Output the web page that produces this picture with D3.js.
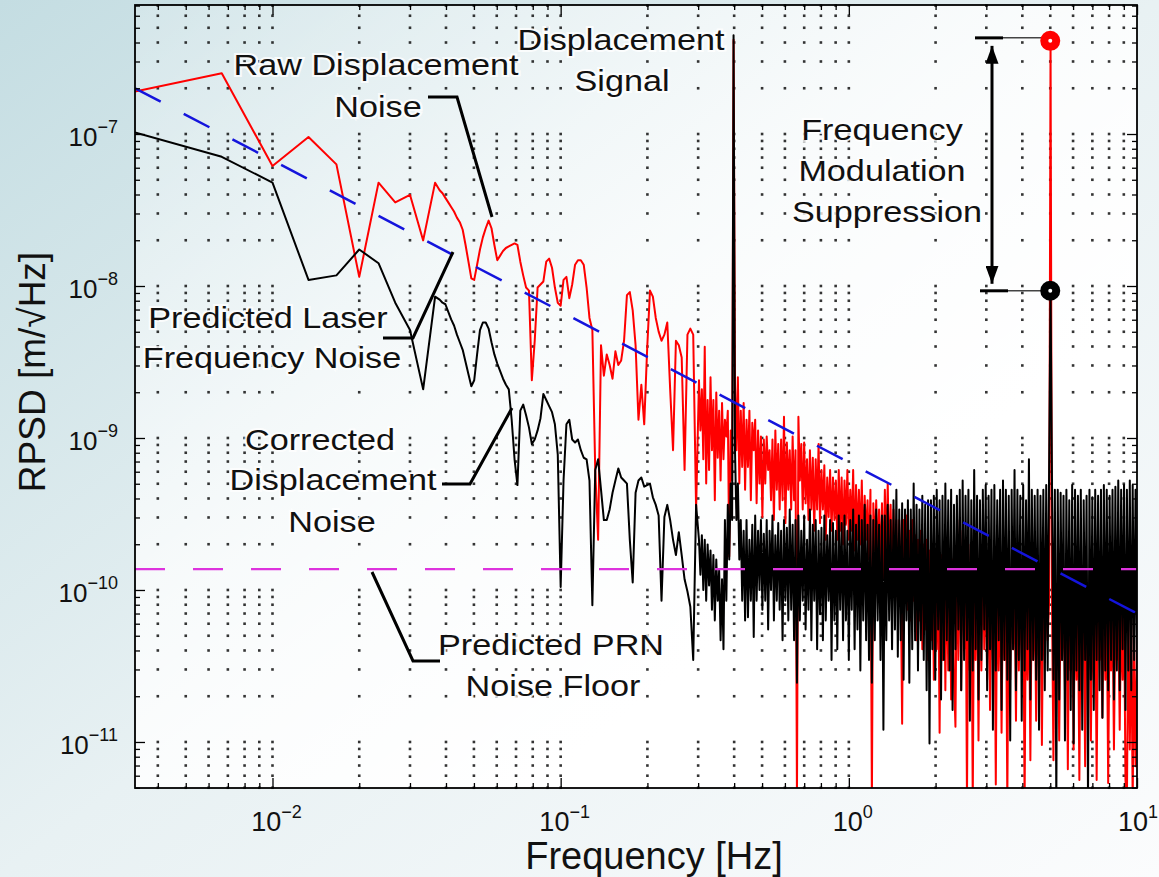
<!DOCTYPE html>
<html>
<head>
<meta charset="utf-8">
<script src="https://cdnjs.cloudflare.com/ajax/libs/d3/7.8.5/d3.min.js"></script>
<style>
html, body { margin: 0; padding: 0; }
body { width: 1159px; height: 877px; overflow: hidden; font-family: "Liberation Sans", Arial, Helvetica, sans-serif; }
</style>
</head>
<body>
<svg id="chart" width="1159" height="877"></svg>
<script>
var width = 1159, height = 877;

// axis limits
var freqRange = [1/300, 10];          // Hz
var rpsdRange = [4.98e-12, 7.06e-7];  // m/sqrt(Hz)
var majorFreq = [0.01, 0.1, 1, 10];
var majorRpsd = [1e-11, 1e-10, 1e-9, 1e-8, 1e-7];

// lowest FFT bins (n/300 Hz), values as log10(RPSD)
var lowFreq = [0.003333, 0.006667, 0.01, 0.013333, 0.016667, 0.02, 0.023333, 0.026667, 0.03, 0.033333, 0.036667];
var rawLow  = [-6.72, -6.60, -7.21, -7.02, -7.20, -7.94, -7.32, -7.45, -7.40, -7.70, -7.32];
var corrLow = [-6.99, -7.15, -7.32, -7.96, -7.93, -7.76, -7.85, -8.11, -8.29, -8.68, -8.07];

// 10^-1.42 .. 10^-0.53 Hz, read every 0.01 decade (log10 RPSD)
var midStart = -1.42, midStep = 0.01;
var rawMid = [
  -7.37,-7.39,-7.42,-7.45,-7.48,-7.51,-7.55,-7.58,-7.63,-7.73,
  -7.84,-7.95,-7.96,-7.86,-7.76,-7.68,-7.62,-7.57,-7.62,-7.73,
  -7.83,-7.80,-7.77,-7.75,-7.74,-7.73,-7.72,-7.73,-7.84,-7.93,
  -8.01,-8.03,-8.62,-8.36,-8.01,-7.99,-7.97,-7.84,-7.82,-7.88,
  -8.01,-8.11,-8.13,-7.96,-7.94,-8.08,-7.99,-7.86,-7.83,-7.83,
  -7.86,-8.01,-8.21,-8.29,-9.21,-9.67,-8.39,-8.59,-8.45,-8.52,
  -8.61,-8.43,-8.52,-8.49,-8.36,-8.06,-8.04,-8.16,-8.39,-8.88,
  -8.65,-8.91,-8.42,-8.03,-8.07,-8.21,-8.30,-8.36,-8.32,-8.24,
  -8.68,-9.08,-8.36,-8.39,-8.47,-9.21,-8.32,-8.28,-8.32,-9.47
];
var corrMid = [
  -8.09,-8.11,-8.12,-8.17,-8.22,-8.26,-8.32,-8.37,-8.42,-8.50,
  -8.58,-8.66,-8.62,-8.45,-8.29,-8.24,-8.24,-8.28,-8.37,-8.45,
  -8.51,-8.56,-8.61,-8.65,-8.68,-8.88,-9.14,-9.31,-8.82,-8.78,
  -8.85,-8.93,-9.04,-9.01,-8.95,-8.87,-8.71,-8.75,-8.79,-8.83,
  -8.91,-9.11,-9.98,-9.28,-8.91,-8.88,-9.01,-9.03,-9.01,-9.08,
  -9.13,-9.14,-9.28,-10.10,-9.21,-9.14,-9.34,-9.54,-9.54,-9.47,
  -9.36,-9.28,-9.20,-9.26,-9.28,-9.30,-9.67,-9.95,-9.36,-9.28,
  -9.26,-9.32,-9.31,-9.30,-9.39,-9.44,-9.51,-10.07,-9.52,-9.44,
  -9.54,-9.67,-9.77,-9.62,-9.77,-9.93,-10.01,-10.11,-10.46,-9.44
];

// 10^-0.52 .. 10 Hz, where the trace gets dense: read every 0.005 decade (log10 RPSD)
var denseStart = -0.52, denseStep = 0.005;
var rawDense = [
  -8.62,-8.95,-8.68,-9.14,-8.40,-9.30,-8.75,-9.21,-8.60,-9.08,
  -8.75,-9.41,-8.70,-9.13,-8.82,-9.28,-8.77,-9.14,-8.88,-8.99,
  -8.82,-9.78,-8.95,-9.28,-6.38,-8.65,-9.08,-8.60,-9.30,-8.82,
  -9.19,-8.77,-9.34,-8.88,-9.19,-8.82,-9.41,-8.90,-9.08,-8.88,
  -9.43,-8.95,-9.30,-8.99,-9.52,-9.01,-9.30,-8.99,-9.21,-9.08,
  -9.41,-9.01,-9.54,-8.95,-9.34,-9.04,-9.47,-9.01,-9.41,-8.86,
  -9.56,-9.03,-9.34,-9.08,-9.47,-8.99,-9.41,-9.08,-11.4,-8.86,
  -9.28,-9.04,-9.47,-9.03,-9.43,-9.14,-9.54,-9.08,-9.47,-9.13,
  -9.61,-9.14,-9.47,-9.04,-9.56,-9.21,-9.47,-9.18,-9.67,-9.26,
  -9.52,-9.21,-9.61,-9.26,-9.54,-9.28,-9.67,-9.21,-9.61,-9.26,
  -9.70,-9.28,-9.57,-9.21,-9.67,-9.34,-9.61,-9.21,-9.74,-9.31,
  -9.67,-9.34,-9.70,-9.28,-9.80,-9.38,-9.67,-9.41,-9.80,-9.34,
  -11.4,-9.43,-9.74,-9.41,-9.80,-9.47,-9.87,-9.43,-9.93,-9.34,
  -9.80,-9.30,-9.87,-9.44,-10.00,-9.47,-9.93,-9.54,-10.07,-9.54,
  -9.93,-10.88,-9.54,-10.07,-9.51,-10.13,-9.61,-10.20,-9.54,-10.07,
  -9.64,-10.33,-9.67,-10.20,-9.61,-10.39,-9.70,-10.26,-9.67,-10.46,
  -9.74,-10.33,-9.70,-10.59,-9.74,-10.39,-9.80,-10.94,-9.77,-10.46,
  -9.70,-10.66,-9.80,-10.53,-9.74,-10.72,-9.80,-10.59,-10.90,-9.70,
  -10.46,-9.54,-10.66,-9.61,-10.39,-9.67,-11.4,-9.70,-10.53,-9.74,
  -11.4,-9.80,-10.46,-9.74,-10.99,-9.80,-10.53,-9.70,-10.39,-9.80,
  -10.59,-9.74,-10.79,-9.87,-10.46,-9.80,-11.28,-9.80,-10.53,-9.87,
  -10.94,-9.93,-10.46,-9.87,-11.4,-9.84,-10.59,-9.93,-10.39,-9.90,
  -10.86,-9.87,-10.53,-9.93,-10.46,-9.90,-11.4,-9.87,-10.59,-9.93,
  -11.12,-9.90,-10.46,-9.93,-10.86,-9.87,-10.53,-10.00,-11.02,-9.93,
  -10.46,-10.00,-10.33,-10.07,-6.39,-10.07,-11.12,-9.93,-10.53,-10.00,
  -10.99,-10.07,-10.46,-10.00,-10.66,-9.93,-11.18,-10.00,-10.53,-10.07,
  -11.05,-10.00,-10.59,-10.07,-11.25,-10.00,-10.46,-10.07,-11.16,-10.13,
  -10.53,-10.00,-10.99,-10.07,-10.59,-10.03,-11.25,-10.07,-10.46,-10.13,
  -10.84,-10.03,-10.59,-10.07,-11.27,-10.13,-10.53,-10.07,-11.05,-10.13,
  -10.46,-10.07,-10.92,-10.13,-10.59,-10.07,-11.25,-11.4,-10.13,-11.05,
  -10.20,-11.4,-10.33,-11.16,-10.39
];
var corrDense = [
  -9.67,-9.90,-9.64,-10.00,-9.67,-10.07,-9.70,-9.97,-9.74,-10.13,
  -9.77,-10.20,-9.80,-10.07,-9.87,-10.33,-9.93,-10.39,-9.54,-10.07,
  -9.44,-9.80,-9.30,-9.54,-6.35,-9.08,-9.54,-9.30,-9.80,-9.54,
  -10.07,-9.61,-10.20,-9.54,-10.18,-9.67,-10.07,-9.57,-10.31,-9.51,
  -10.07,-9.61,-10.00,-9.54,-10.13,-9.63,-10.07,-9.54,-10.26,-9.61,
  -10.00,-9.51,-10.20,-9.64,-10.07,-9.56,-10.13,-9.61,-10.33,-9.54,
  -10.07,-9.59,-10.20,-9.47,-10.13,-9.57,-10.33,-9.54,-10.61,-9.51,
  -10.20,-9.61,-10.07,-9.51,-10.26,-9.67,-10.13,-9.47,-10.33,-9.57,
  -10.07,-9.54,-10.39,-9.61,-10.16,-9.59,-10.33,-9.51,-10.20,-9.64,
  -10.07,-9.54,-10.46,-9.56,-10.20,-9.61,-10.39,-9.51,-10.13,-9.56,
  -10.33,-9.51,-10.20,-9.61,-10.46,-9.54,-10.13,-9.47,-10.39,-9.57,
  -10.26,-9.51,-10.53,-9.54,-10.20,-9.44,-10.33,-9.57,-10.46,-9.51,
  -10.61,-9.54,-10.33,-9.47,-10.20,-9.57,-10.46,-9.51,-10.92,-9.51,
  -10.33,-9.44,-10.20,-9.54,-10.39,-9.41,-10.26,-9.34,-10.44,-9.47,
  -10.33,-9.43,-10.59,-9.47,-10.20,-9.41,-10.61,-9.47,-10.39,-9.30,
  -10.33,-9.44,-10.53,-9.47,-10.33,-9.38,-10.46,-9.44,-10.66,-9.41,
  -11.01,-9.41,-10.39,-9.38,-10.59,-9.34,-10.26,-9.41,-10.72,-9.38,
  -10.46,-9.30,-10.33,-9.41,-10.53,-9.34,-10.79,-9.44,-10.39,-9.38,
  -10.26,-9.34,-10.66,-9.28,-10.46,-9.38,-10.33,-9.34,-10.86,-9.41,
  -10.53,-9.21,-10.39,-9.38,-10.72,-9.41,-10.46,-9.34,-10.26,-9.31,
  -10.66,-9.38,-10.39,-9.34,-10.92,-9.31,-10.53,-9.41,-10.33,-9.34,
  -10.79,-9.28,-10.46,-9.34,-10.59,-9.38,-10.99,-9.34,-10.39,-9.21,
  -10.66,-9.34,-10.46,-9.38,-10.86,-9.31,-10.53,-9.41,-10.39,-9.14,
  -10.72,-9.34,-10.46,-9.38,-10.59,-9.34,-10.92,-9.38,-10.46,-9.34,
  -10.66,-9.31,-10.53,-9.21,-8.03,-9.28,-10.59,-9.34,-11.4,-9.34,
  -10.72,-9.36,-10.46,-9.38,-10.99,-9.34,-10.59,-9.41,-10.79,-9.31,
  -11.01,-9.34,-10.53,-9.38,-10.66,-9.34,-10.92,-9.41,-10.46,-9.38,
  -11.4,-9.34,-10.59,-9.39,-10.79,-9.34,-10.46,-9.38,-10.66,-9.34,
  -10.84,-9.31,-10.53,-9.34,-10.66,-9.38,-10.46,-9.34,-10.72,-9.32,
  -10.53,-9.28,-10.66,-9.34,-10.39,-9.31,-10.79,-9.34,-10.53,-9.28,
  -10.66,-9.31,-10.46,-9.34,-10.53
];

// model lines
var laserFreq = [1/300, 10];
var laserVal  = [2.0e-7, 7.0e-11];
var prnFreq = [1/300, 10];
var prnVal  = [1.37e-10, 1.37e-10];

// 5 Hz frequency-modulation peak, before and after correction
var peakFreq = 5, peakRaw = 4.1e-7, peakCorr = 9.3e-9;

var svg = d3.select("#chart");
var defs = svg.append("defs");

var bg = defs.append("linearGradient").attr("id", "bg")
    .attr("x1", 0).attr("y1", 0).attr("x2", 1).attr("y2", 1);
bg.append("stop").attr("offset", 0).attr("stop-color", "#c4dde2");
bg.append("stop").attr("offset", 0.5).attr("stop-color", "#e8f1f3");
bg.append("stop").attr("offset", 1).attr("stop-color", "#fbfcfd");

var pbg = defs.append("linearGradient").attr("id", "plotbg")
    .attr("x1", 0).attr("y1", 0).attr("x2", 1).attr("y2", 1);
pbg.append("stop").attr("offset", 0).attr("stop-color", "#fff").attr("stop-opacity", 0.2);
pbg.append("stop").attr("offset", 0.4).attr("stop-color", "#fff").attr("stop-opacity", 0.75);
pbg.append("stop").attr("offset", 0.7).attr("stop-color", "#fff").attr("stop-opacity", 1);

defs.append("marker").attr("id", "head")
    .attr("viewBox", "0 0 18 13").attr("markerUnits", "userSpaceOnUse")
    .attr("markerWidth", 18).attr("markerHeight", 13)
    .attr("refX", 18).attr("refY", 6.5).attr("orient", "auto-start-reverse")
  .append("path").attr("d", "M0,0L18,6.5L0,13Z").attr("fill", "#000");

svg.append("rect").attr("width", width).attr("height", height).attr("fill", "url(#bg)");

var x = d3.scaleLog().domain(freqRange).range([135, 1137]);
var y = d3.scaleLog().domain(rpsdRange).range([788, 5]);
var x0 = x.range()[0], x1 = x.range()[1], y0 = y.range()[1], y1 = y.range()[0];

defs.append("clipPath").attr("id", "clip")
  .append("rect").attr("x", x0).attr("y", y0).attr("width", x1 - x0).attr("height", y1 - y0);

svg.append("rect").attr("x", x0).attr("y", y0).attr("width", x1 - x0).attr("height", y1 - y0)
    .attr("fill", "url(#plotbg)");

function isMajor(v) { var l = Math.log10(v); return Math.abs(l - Math.round(l)) < 1e-6; }
var xt = x.ticks(), yt = y.ticks();

// dotted grid: the dots sit on the crossings of the (major + minor) grid lines
var cross = [];
xt.forEach(function (a) { yt.forEach(function (b) { cross.push([a, b]); }); });
svg.append("g").selectAll("rect")
    .data(cross.filter(function (d) { return x(d[0]) > x0 + 3 && x(d[0]) < x1 - 3; }))
    .enter().append("rect")
    .attr("x", function (d) { return x(d[0]) - 1.3; })
    .attr("y", function (d) { return y(d[1]) - 1.3; })
    .attr("width", 2.6).attr("height", 2.6)
    .attr("fill", "#111").attr("opacity", 0.85);

function series(lowLog, midLog, denseLog) {
  var pts = lowFreq.map(function (f, i) { return [f, Math.pow(10, lowLog[i])]; });
  midLog.forEach(function (v, i) { pts.push([Math.pow(10, midStart + midStep * i), Math.pow(10, v)]); });
  denseLog.forEach(function (v, i) { pts.push([Math.pow(10, denseStart + denseStep * i), Math.pow(10, v)]); });
  return pts;
}
var line = d3.line().x(function (d) { return x(d[0]); }).y(function (d) { return y(d[1]); });
var plot = svg.append("g").attr("clip-path", "url(#clip)");

plot.append("path").datum(series(rawLow, rawMid, rawDense)).attr("d", line)
    .attr("fill", "none").attr("stroke", "#ff0000").attr("stroke-width", 2).attr("stroke-linejoin", "round");
plot.append("path").datum(series(corrLow, corrMid, corrDense)).attr("d", line)
    .attr("fill", "none").attr("stroke", "#000").attr("stroke-width", 2).attr("stroke-linejoin", "round");

plot.append("path").datum(d3.zip(prnFreq, prnVal)).attr("d", line)
    .attr("fill", "none").attr("stroke", "#dd33dd").attr("stroke-width", 2.2).attr("stroke-dasharray", "30,28");
plot.append("path").datum(d3.zip(laserFreq, laserVal)).attr("d", line)
    .attr("fill", "none").attr("stroke", "#1414dc").attr("stroke-width", 2.5).attr("stroke-dasharray", "29,26");

// ticks, all four sides, pointing inward
function axisTicks(axis, vals, len, tx, ty) {
  svg.append("g").attr("transform", "translate(" + tx + "," + ty + ")")
    .call(axis.tickValues(vals).tickSize(len).tickFormat(""))
    .call(function (g) { g.select(".domain").remove(); g.selectAll("line").attr("stroke", "#000").attr("stroke-width", 1.3); });
}
var xMin = xt.filter(function (v) { return !isMajor(v); }), yMin = yt.filter(function (v) { return !isMajor(v); });
axisTicks(d3.axisBottom(x), majorFreq, -10, 0, y1);
axisTicks(d3.axisBottom(x), xMin, -5, 0, y1);
axisTicks(d3.axisTop(x), majorFreq, -10, 0, y0);
axisTicks(d3.axisTop(x), xMin, -5, 0, y0);
axisTicks(d3.axisLeft(y), majorRpsd, -10, x0, 0);
axisTicks(d3.axisLeft(y), yMin, -5, x0, 0);
axisTicks(d3.axisRight(y), majorRpsd, -10, x1, 0);
axisTicks(d3.axisRight(y), yMin, -5, x1, 0);

svg.append("rect").attr("x", x0).attr("y", y0).attr("width", x1 - x0).attr("height", y1 - y0)
    .attr("fill", "none").attr("stroke", "#000").attr("stroke-width", 1.8);

function expo(v) { var e = Math.round(Math.log10(v)); return (e < 0 ? "\u2212" : "") + Math.abs(e); }
svg.append("g").selectAll("text").data(majorFreq).enter().append("text")
    .attr("x", function (d) { return x(d) + (d === 10 ? 1 : 4); }).attr("y", 831)
    .attr("text-anchor", "middle").attr("font-size", 27).attr("fill", "#111")
    .each(function (d) {
      var t = d3.select(this);
      t.append("tspan").text("10");
      t.append("tspan").attr("dy", -13).attr("font-size", 18).text(expo(d));
    });
svg.append("g").selectAll("text").data(majorRpsd).enter().append("text")
    .attr("x", 118).attr("y", function (d) { return y(d) + 12; })
    .attr("text-anchor", "end").attr("font-size", 26).attr("fill", "#111")
    .each(function (d) {
      var t = d3.select(this);
      t.append("tspan").text("10");
      t.append("tspan").attr("dy", -13).attr("font-size", 18).text(expo(d));
    });

svg.append("text").attr("x", 654).attr("y", 869).attr("text-anchor", "middle")
    .attr("font-size", 38).attr("fill", "#111").text("Frequency [Hz]");
svg.append("text").attr("transform", "translate(45,372) rotate(-90)").attr("text-anchor", "middle")
    .attr("font-size", 37).attr("fill", "#111").text("RPSD [m/\u221AHz]");

// frequency modulation suppression marker
var px = x(peakFreq), pr = y(peakRaw), pc = y(peakCorr);
svg.append("line").attr("x1", 975).attr("x2", px - 8).attr("y1", pr - 3).attr("y2", pr - 3)
    .attr("stroke", "#444").attr("stroke-width", 1.5);
svg.append("line").attr("x1", 975).attr("x2", 1003).attr("y1", pr - 3).attr("y2", pr - 3)
    .attr("stroke", "#000").attr("stroke-width", 3);
svg.append("line").attr("x1", 980).attr("x2", px - 8).attr("y1", pc).attr("y2", pc)
    .attr("stroke", "#444").attr("stroke-width", 1.5);
svg.append("line").attr("x1", 980).attr("x2", 1008).attr("y1", pc).attr("y2", pc)
    .attr("stroke", "#000").attr("stroke-width", 3);
svg.append("line").attr("x1", 992).attr("x2", 992).attr("y1", pr + 5).attr("y2", pc - 7)
    .attr("stroke", "#000").attr("stroke-width", 3)
    .attr("marker-start", "url(#head)").attr("marker-end", "url(#head)");
svg.append("circle").attr("cx", px).attr("cy", pr).attr("r", 6)
    .attr("fill", "#fff").attr("stroke", "#ff0000").attr("stroke-width", 8);
svg.append("circle").attr("cx", px).attr("cy", pc).attr("r", 6)
    .attr("fill", "#fff").attr("stroke", "#000").attr("stroke-width", 8);

// annotations
var notes = [
  ["Raw Displacement", 376, 75], ["Noise", 378, 117],
  ["Displacement", 621, 50], ["Signal", 622, 91],
  ["Frequency", 882, 140], ["Modulation", 882, 181], ["Suppression", 887, 222],
  ["Predicted Laser", 268, 328], ["Frequency Noise", 272, 368],
  ["Corrected", 320, 450], ["Displacement", 333, 490], ["Noise", 332, 532],
  ["Predicted PRN", 551, 655], ["Noise Floor", 553, 696]
];
svg.append("g").selectAll("text").data(notes).enter().append("text")
    .attr("transform", function (d) { return "translate(" + d[1] + "," + d[2] + ") scale(1.14,1)"; })
    .attr("text-anchor", "middle").attr("font-size", 30).attr("fill", "#111")
    .attr("stroke", "#fff").attr("stroke-width", 4).attr("stroke-opacity", 0.8)
    .attr("paint-order", "stroke")
    .text(function (d) { return d[0]; });

var leaders = [
  [[428, 97], [457, 97], [492, 217]],
  [[383, 338], [413, 338], [453, 252]],
  [[442, 484], [470, 484], [512, 408]],
  [[372, 572], [413, 661], [440, 661]]
];
svg.append("g").selectAll("path").data(leaders).enter().append("path")
    .attr("d", d3.line()).attr("fill", "none").attr("stroke", "#000").attr("stroke-width", 3);
</script>
</body>
</html>
